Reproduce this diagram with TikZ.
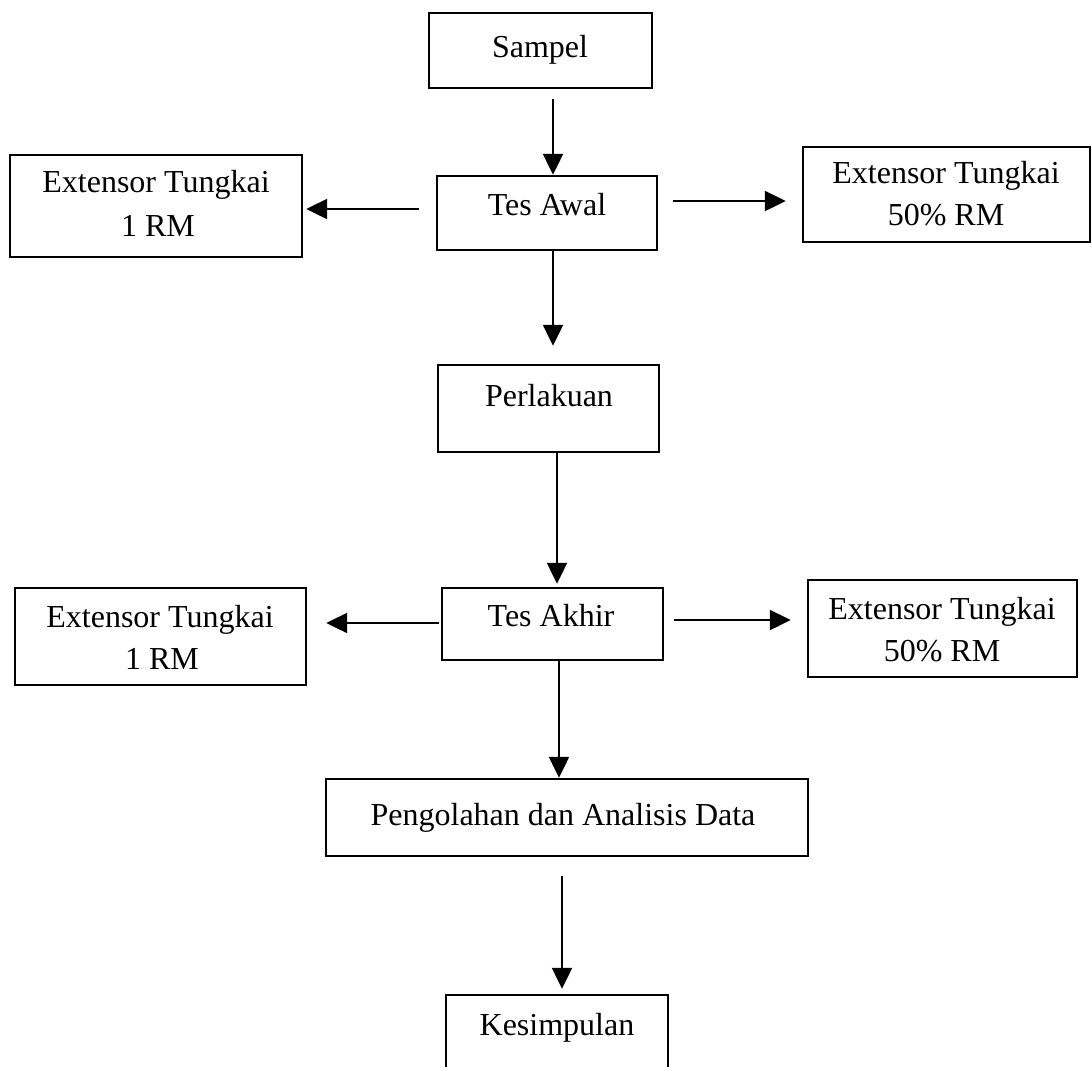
\documentclass[tikz,border=0pt]{standalone}
\usepackage{fontspec}
\setmainfont{Liberation Serif}
\usetikzlibrary{arrows.meta}
\begin{document}
\begin{tikzpicture}[x=1pt,y=-1pt,
  box/.style={draw, line width=2.4pt, inner sep=0pt},
  lbl/.style={font=\fontsize{32}{38}\selectfont, anchor=base, inner sep=0pt},
  arr/.style={line width=2.2pt, -{Triangle[length=21pt,width=20pt]}}]
\useasboundingbox (0,0) rectangle (1092,1066);
\clip (0,0) rectangle (1092,1066);
% boxes
\node[box, minimum width=223pt, minimum height=75pt] (sampel) at (540.5,50.5) {};
\node[box, minimum width=220pt, minimum height=74pt] (tesawal) at (547,213) {};
\node[box, minimum width=292pt, minimum height=102pt] (l1) at (156,206) {};
\node[box, minimum width=287pt, minimum height=95pt] (r1) at (946.5,194.5) {};
\node[box, minimum width=221pt, minimum height=87pt] (perlakuan) at (548.5,408.5) {};
\node[box, minimum width=221pt, minimum height=72pt] (tesakhir) at (552.5,624) {};
\node[box, minimum width=291pt, minimum height=97pt] (l2) at (160.5,636.5) {};
\node[box, minimum width=269pt, minimum height=97pt] (r2) at (942.5,628.5) {};
\node[box, minimum width=482pt, minimum height=77pt] (pengolahan) at (567,817.5) {};
\node[box, minimum width=222pt, minimum height=105pt] (kesimpulan) at (557,1047.5) {};
% texts
\node[lbl] (t-sampel) at (540,57) {Sampel};
\node[lbl] (t-tesawal) at (547,215) {Tes Awal};
\node[lbl] (t-l1a) at (156,192) {Extensor Tungkai};
\node[lbl] (t-l1b) at (158,236) {1 RM};
\node[lbl] (t-r1a) at (946,183) {Extensor Tungkai};
\node[lbl] (t-r1b) at (946,225) {50\% RM};
\node[lbl] (t-perlakuan) at (549,406) {Perlakuan};
\node[lbl] (t-tesakhir) at (551,626) {Tes Akhir};
\node[lbl] (t-l2a) at (160,627) {Extensor Tungkai};
\node[lbl] (t-l2b) at (162,669) {1 RM};
\node[lbl] (t-r2a) at (942,619) {Extensor Tungkai};
\node[lbl] (t-r2b) at (942,661) {50\% RM};
\node[lbl] (t-pengolahan) at (563,825) {Pengolahan dan Analisis Data};
\node[lbl] (t-kesimpulan) at (557,1035) {Kesimpulan};
% connector guides
\coordinate (v1) at (553,0);
\coordinate (v2) at (553,0);
\coordinate (v3) at (557,0);
\coordinate (v4) at (559,0);
\coordinate (v5) at (562,0);
\coordinate (h1) at (0,209);
\coordinate (h2) at (0,201);
\coordinate (h3) at (0,623);
\coordinate (h4) at (0,620);
% connectors
\draw[arr, shorten <=10pt] (sampel.south -| v1) -- (tesawal.north -| v1);
\draw[arr, shorten >=18pt] (tesawal.south -| v2) -- (perlakuan.north -| v2);
\draw[arr, shorten >=3pt] (perlakuan.south -| v3) -- (tesakhir.north -| v3);
\draw[arr] (tesakhir.south -| v4) -- (pengolahan.north -| v4);
\draw[arr, shorten <=19pt, shorten >=5pt] (pengolahan.south -| v5) -- (kesimpulan.north -| v5);
\draw[arr, shorten <=17pt, shorten >=3pt] (tesawal.west |- h1) -- (l1.east |- h1);
\draw[arr, shorten <=15pt, shorten >=16pt] (tesawal.east |- h2) -- (r1.west |- h2);
\draw[arr, shorten <=2pt, shorten >=19pt] (tesakhir.west |- h3) -- (l2.east |- h3);
\draw[arr, shorten <=10pt, shorten >=16pt] (tesakhir.east |- h4) -- (r2.west |- h4);
\end{tikzpicture}
\end{document}
